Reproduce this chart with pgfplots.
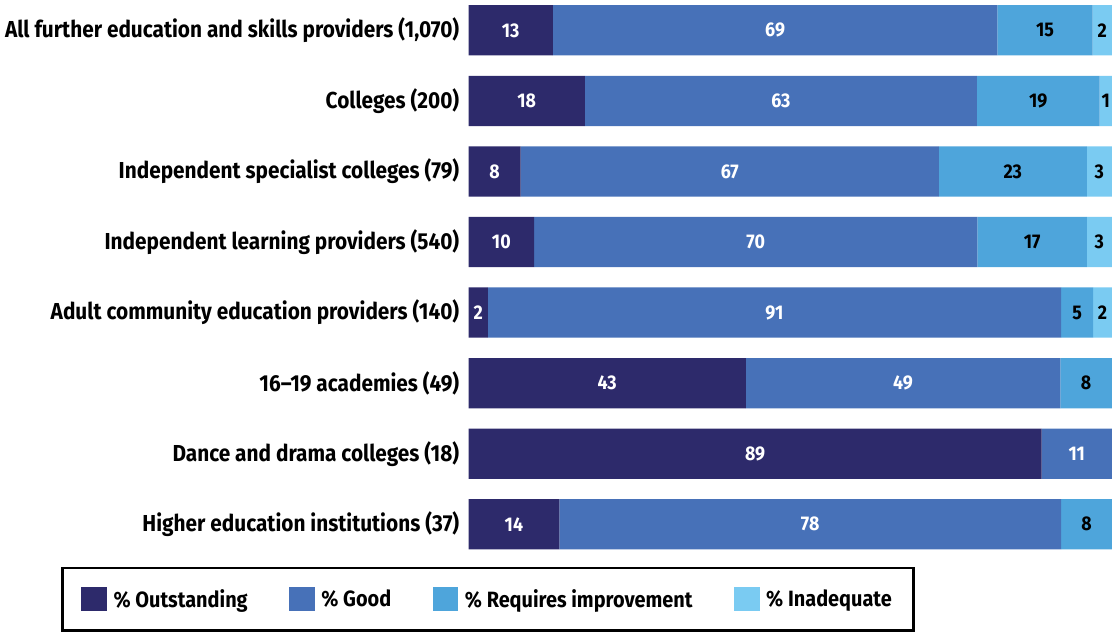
\documentclass[border=0pt]{standalone}
\usepackage{fontspec}
\setmainfont{Fira Sans}[FakeStretch=0.9]
\usepackage{pgfplots}
\usepackage{pgfplotstable}
\pgfplotsset{compat=1.18}

\definecolor{cOut}{HTML}{2D2A6B}
\definecolor{cGood}{HTML}{4771B8}
\definecolor{cRI}{HTML}{4EA5DB}
\definecolor{cInad}{HTML}{7ACBF2}

% y: 7 = top row ... 0 = bottom row; w = bar width read off, lab = printed value
\pgfplotstableread{
y w lab
7 13.1 13
6 18.1 18
5 8.1 8
4 10.2 10
3 3.0 2
2 43.1 43
1 89.1 89
0 14.1 14
}\outst
\pgfplotstableread{
y w lab
7 69.1 69
6 60.9 63
5 65.0 67
4 68.9 70
3 89.1 91
2 48.9 49
1 10.9 11
0 78.0 78
}\good
\pgfplotstableread{
y w lab
7 14.8 15
6 19.1 19
5 23.0 23
4 17.0 17
3 5.0 5
2 8.0 8
1 0 0
0 7.9 8
}\reqimp
\pgfplotstableread{
y w lab
7 3.0 2
6 1.9 1
5 3.9 3
4 3.9 3
3 2.9 2
2 0 0
1 0 0
0 0 0
}\inad

% stacked bars already put nodes near coords mid-segment with anchor=center
\pgfplotsset{
  seg/.style={fill=#1, draw=none,
    nodes near coords={\pgfmathfloatifflags{\pgfplotspointmeta}{0}{}{\pgfmathprintnumber{\pgfplotspointmeta}}},
    every node near coord/.append style={anchor=center, inner sep=0pt,
        font=\fontsize{14.8}{17}\selectfont\bfseries}},
}

\begin{document}
\begin{tikzpicture}
\begin{axis}[
    xbar stacked,
    x=4.8pt, y=52.65pt,
    bar width=37.5pt,
    xmin=0, xmax=100,
    ymin=-0.5, ymax=7.43,
    axis line style={draw=none},
    xtick=\empty,
    ytick={0,...,7},
    major tick length=0pt,
    /pgf/number format/assume math mode=true,
    yticklabels={
        Higher education institutions (37),
        Dance and drama colleges (18),
        16--19 academies (49),
        Adult community education providers (140),
        Independent learning providers (540),
        Independent specialist colleges (79),
        Colleges (200),
        All further education and skills providers (1{,}070)},
    yticklabel style={font=\fontsize{17.25}{20}\selectfont\bfseries,
                      anchor=east, inner sep=0pt, xshift=-6.75pt},
    point meta=explicit,
    legend columns=4,
    legend cell align=left,
    legend image code/.code={\fill[#1,draw=none] (0pt,-9pt) rectangle (19pt,9pt);},
    legend style={at={(axis cs:-63.3,-0.6)}, anchor=north west,
        draw=black, line width=2pt,
        inner xsep=14pt, inner ysep=14pt,
        font=\fontsize{16.5}{19}\selectfont\bfseries,
        /tikz/every odd column/.append style={column sep=3pt},
        /tikz/every even column/.append style={column sep=29pt}},
]
\addplot[seg=cOut, nodes near coords style={text=white}]
    table[x=w, y=y, meta=lab] {\outst};
\addlegendentry{\% Outstanding}
\addplot[seg=cGood, nodes near coords style={text=white}]
    table[x=w, y=y, meta=lab] {\good};
\addlegendentry{\% Good}
\addplot[seg=cRI, nodes near coords style={text=black}]
    table[x=w, y=y, meta=lab] {\reqimp};
\addlegendentry{\% Requires improvement}
\addplot[seg=cInad, nodes near coords style={text=black}]
    table[x=w, y=y, meta=lab] {\inad};
\addlegendentry{\% Inadequate}
\end{axis}
% small white margin left of the labels, as in the original
\path ([xshift=-3.75pt]current bounding box.west);
\end{tikzpicture}
\end{document}
